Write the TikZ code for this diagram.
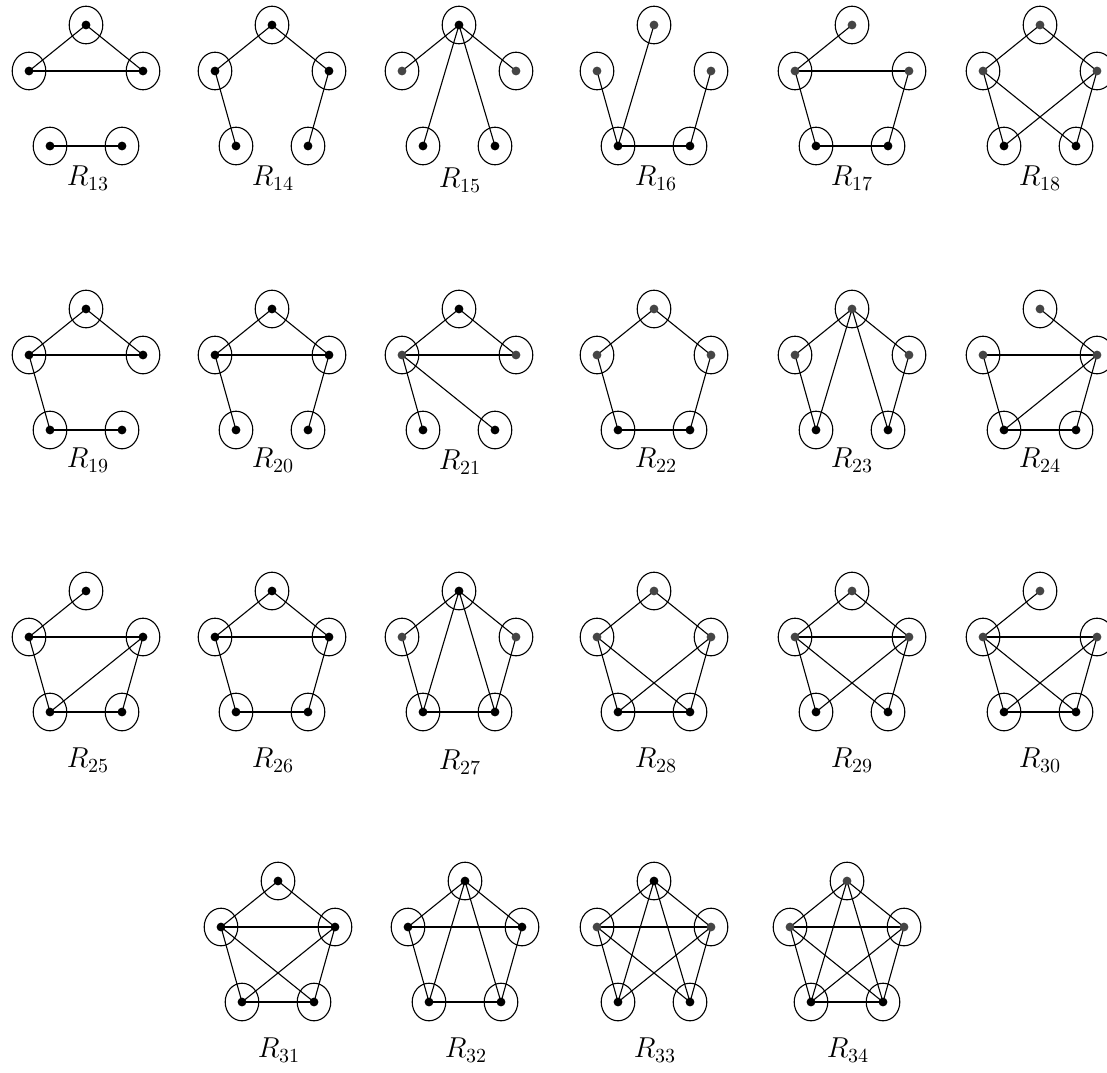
\documentclass[tikz,border=0pt]{standalone}
\usepackage{amsmath}
\usetikzlibrary{shapes.geometric, backgrounds}

\definecolor{dotgray}{gray}{0.27}

% five ringed vertices of one graph: name, x and y of the top vertex, dot colour of top, dot colour of sides
\newcommand{\vertset}[5]{%
  \node[vtx=#4] (#1t) at (#2,#3) {};
  \node[vtx=#5] (#1l) at ([shift={(-57,46)}]#1t.center) {};
  \node[vtx=#5] (#1r) at ([shift={(57,46)}]#1t.center) {};
  \node[vtx=black] (#1bl) at ([shift={(-36,121)}]#1t.center) {};
  \node[vtx=black] (#1br) at ([shift={(36,121)}]#1t.center) {};
}
% edges of one graph
\newcommand{\edgeset}[2]{%
  \foreach \a/\b in {#2} \draw[edge] (#1\a.center) -- (#1\b.center);
}

\begin{document}
\begin{tikzpicture}[
    x=0.5pt, y=-0.5pt,
    vtx/.style={ellipse, draw=black, line width=0.55pt, minimum width=16.8pt, minimum height=18.8pt, inner sep=0pt,
        path picture={\fill[#1] (path picture bounding box.center) circle (2.2pt);}},
    vtx/.default=black,
    edge/.style={line width=0.55pt},
    lbl/.style={font=\Large}
]
\useasboundingbox (0,0) rectangle (1107,1072);
\clip (0,0) rectangle (1107,1072);

% === Row 1 ===
\vertset{g13}{86}{25}{black}{black}
\vertset{g14}{272}{25}{black}{black}
\vertset{g15}{459}{25}{black}{dotgray}
\vertset{g16}{654}{25}{dotgray}{dotgray}
\vertset{g17}{852}{25}{dotgray}{dotgray}
\vertset{g18}{1040}{25}{dotgray}{dotgray}
\node[lbl] (lab13) at (88,178) {$R_{13}$};
\node[lbl] (lab14) at (273,178) {$R_{14}$};
\node[lbl] (lab15) at (460,180) {$R_{15}$};
\node[lbl] (lab16) at (656,178) {$R_{16}$};
\node[lbl] (lab17) at (852,178) {$R_{17}$};
\node[lbl] (lab18) at (1040,178) {$R_{18}$};

% === Row 2 ===
\vertset{g19}{86}{309}{black}{black}
\vertset{g20}{272}{309}{black}{black}
\vertset{g21}{459}{309}{black}{dotgray}
\vertset{g22}{654}{309}{dotgray}{dotgray}
\vertset{g23}{852}{309}{dotgray}{dotgray}
\vertset{g24}{1040}{309}{dotgray}{dotgray}
\node[lbl] (lab19) at (88,460) {$R_{19}$};
\node[lbl] (lab20) at (273,460) {$R_{20}$};
\node[lbl] (lab21) at (460,462) {$R_{21}$};
\node[lbl] (lab22) at (656,460) {$R_{22}$};
\node[lbl] (lab23) at (852,460) {$R_{23}$};
\node[lbl] (lab24) at (1040,460) {$R_{24}$};

% === Row 3 ===
\vertset{g25}{86}{591}{black}{black}
\vertset{g26}{272}{591}{black}{black}
\vertset{g27}{459}{591}{black}{dotgray}
\vertset{g28}{654}{591}{dotgray}{dotgray}
\vertset{g29}{852}{591}{dotgray}{dotgray}
\vertset{g30}{1040}{591}{dotgray}{dotgray}
\node[lbl] (lab25) at (88,760) {$R_{25}$};
\node[lbl] (lab26) at (273,760) {$R_{26}$};
\node[lbl] (lab27) at (460,762) {$R_{27}$};
\node[lbl] (lab28) at (656,760) {$R_{28}$};
\node[lbl] (lab29) at (852,760) {$R_{29}$};
\node[lbl] (lab30) at (1040,760) {$R_{30}$};

% === Row 4 ===
\vertset{g31}{278}{881}{black}{black}
\vertset{g32}{465}{881}{black}{black}
\vertset{g33}{654}{881}{black}{dotgray}
\vertset{g34}{847}{881}{dotgray}{dotgray}
\node[lbl] (lab31) at (279,1050) {$R_{31}$};
\node[lbl] (lab32) at (466,1050) {$R_{32}$};
\node[lbl] (lab33) at (655,1050) {$R_{33}$};
\node[lbl] (lab34) at (848,1050) {$R_{34}$};

% === Edges ===
\begin{scope}[on background layer]
\edgeset{g13}{t/l, t/r, l/r, bl/br}
\edgeset{g14}{t/l, t/r, l/bl, r/br}
\edgeset{g15}{t/l, t/r, t/bl, t/br}
\edgeset{g16}{t/bl, l/bl, r/br, bl/br}
\edgeset{g17}{t/l, l/r, l/bl, r/br, bl/br}
\edgeset{g18}{t/l, t/r, l/bl, r/br, l/br, r/bl}
\edgeset{g19}{t/l, t/r, l/r, l/bl, bl/br}
\edgeset{g20}{t/l, t/r, l/r, l/bl, r/br}
\edgeset{g21}{t/l, t/r, l/r, l/bl, l/br}
\edgeset{g22}{t/l, t/r, l/bl, r/br, bl/br}
\edgeset{g23}{t/l, t/r, t/bl, t/br, l/bl, r/br}
\edgeset{g24}{t/r, l/r, l/bl, r/bl, r/br, bl/br}
\edgeset{g25}{t/l, l/r, l/bl, r/bl, r/br, bl/br}
\edgeset{g26}{t/l, t/r, l/r, l/bl, r/br, bl/br}
\edgeset{g27}{t/l, t/r, t/bl, t/br, l/bl, r/br, bl/br}
\edgeset{g28}{t/l, t/r, l/bl, r/br, l/br, r/bl, bl/br}
\edgeset{g29}{t/l, t/r, l/r, l/bl, r/br, l/br, r/bl}
\edgeset{g30}{t/l, l/r, l/bl, r/br, l/br, r/bl, bl/br}
\edgeset{g31}{t/l, t/r, l/r, l/bl, r/br, l/br, r/bl, bl/br}
\edgeset{g32}{t/l, t/r, t/bl, t/br, l/r, l/bl, r/br, bl/br}
\edgeset{g33}{t/l, t/r, t/bl, t/br, l/r, l/bl, r/br, l/br, r/bl}
\edgeset{g34}{t/l, t/r, t/bl, t/br, l/r, l/bl, l/br, r/bl, r/br, bl/br}
\end{scope}

\end{tikzpicture}
\end{document}
